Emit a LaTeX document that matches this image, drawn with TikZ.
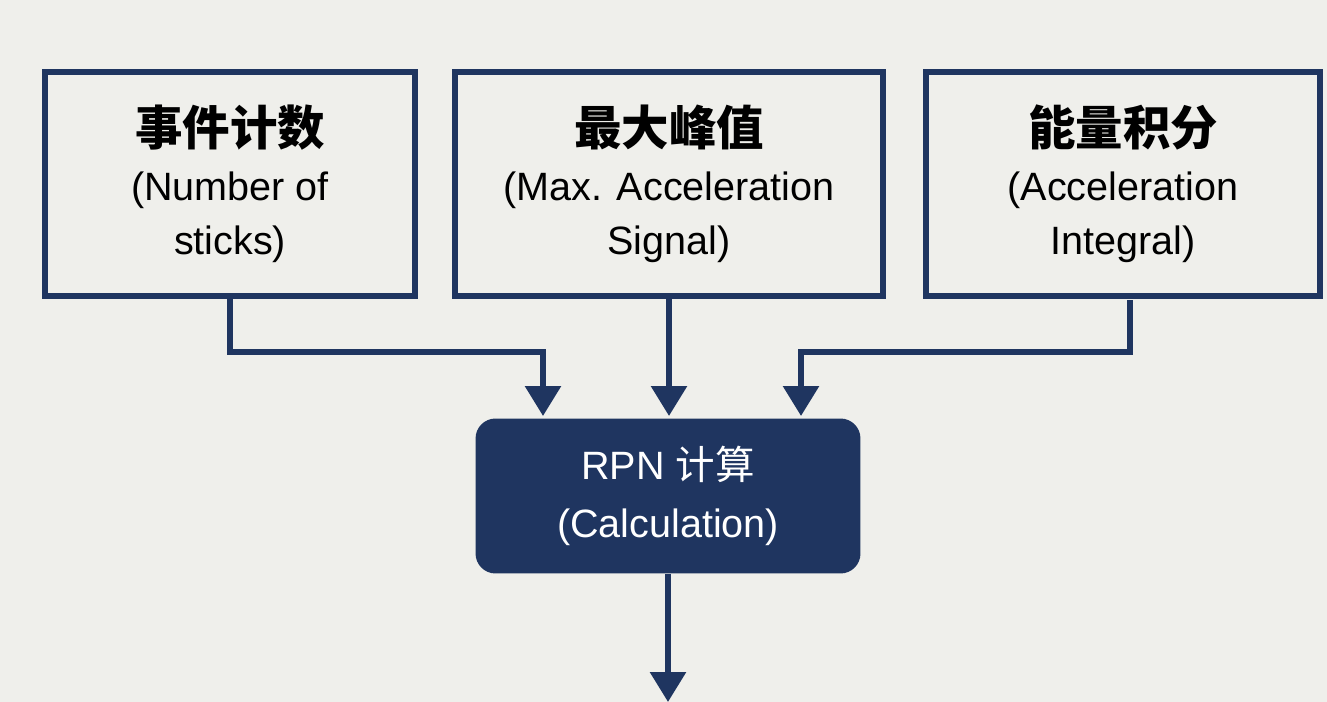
\documentclass[tikz,border=0pt]{standalone}
\usepackage{fontspec}
\setmainfont{Liberation Sans}
\newfontfamily\cjk{Noto Sans CJK SC}
\usetikzlibrary{arrows.meta,positioning}
\definecolor{navy}{HTML}{1F3560}
\definecolor{bg}{HTML}{EFEFEB}
\tikzset{
  inbox/.style={draw=navy,line width=3.4pt,fill=bg,minimum height=4.5cm,align=center,
    font=\fontsize{22.5}{31}\selectfont,inner sep=0pt},
  calc/.style={fill=navy,rounded corners=0.4cm,minimum width=7.7cm,minimum height=3.1cm,
    align=center,text=white,font=\fontsize{22.5}{33}\selectfont},
  flow/.style={navy,line width=3.4pt,-{Triangle[length=0.6cm,width=0.7cm]}}
}
\begin{document}
\begin{tikzpicture}[x=0.02cm,y=-0.02cm]
\fill[bg] (0,0) rectangle (1327,702);
\useasboundingbox (0,0) rectangle (1327,702);
%inputs
\node[inbox,minimum width=7.4cm] (count) at (230,184)
  {{\cjk\bfseries\fontsize{27}{31}\selectfont 事件计数}\\(Number of\\sticks)};
\node[inbox,minimum width=8.56cm] (peak) at (669,184)
  {{\cjk\bfseries\fontsize{27}{31}\selectfont 最大峰值}\\(Max. Acceleration\\Signal)};
\node[inbox,minimum width=7.9cm] (energy) at (1123,184)
  {{\cjk\bfseries\fontsize{27}{31}\selectfont 能量积分}\\(Acceleration\\Integral)};
%calculation
\node[calc] (rpn) at (668,496) {RPN {\cjk 计算}\\(Calculation)};
\coordinate (out) at (668,702);
%arrows
\draw[flow] (count.south) |- (543,352) -- (543,416);
\draw[flow] (peak.south) -- (669,416);
\draw[flow] (1130,300) |- (801,352) -- (801,416);
\draw[flow] (rpn.south) -- (out);
\end{tikzpicture}
\end{document}
